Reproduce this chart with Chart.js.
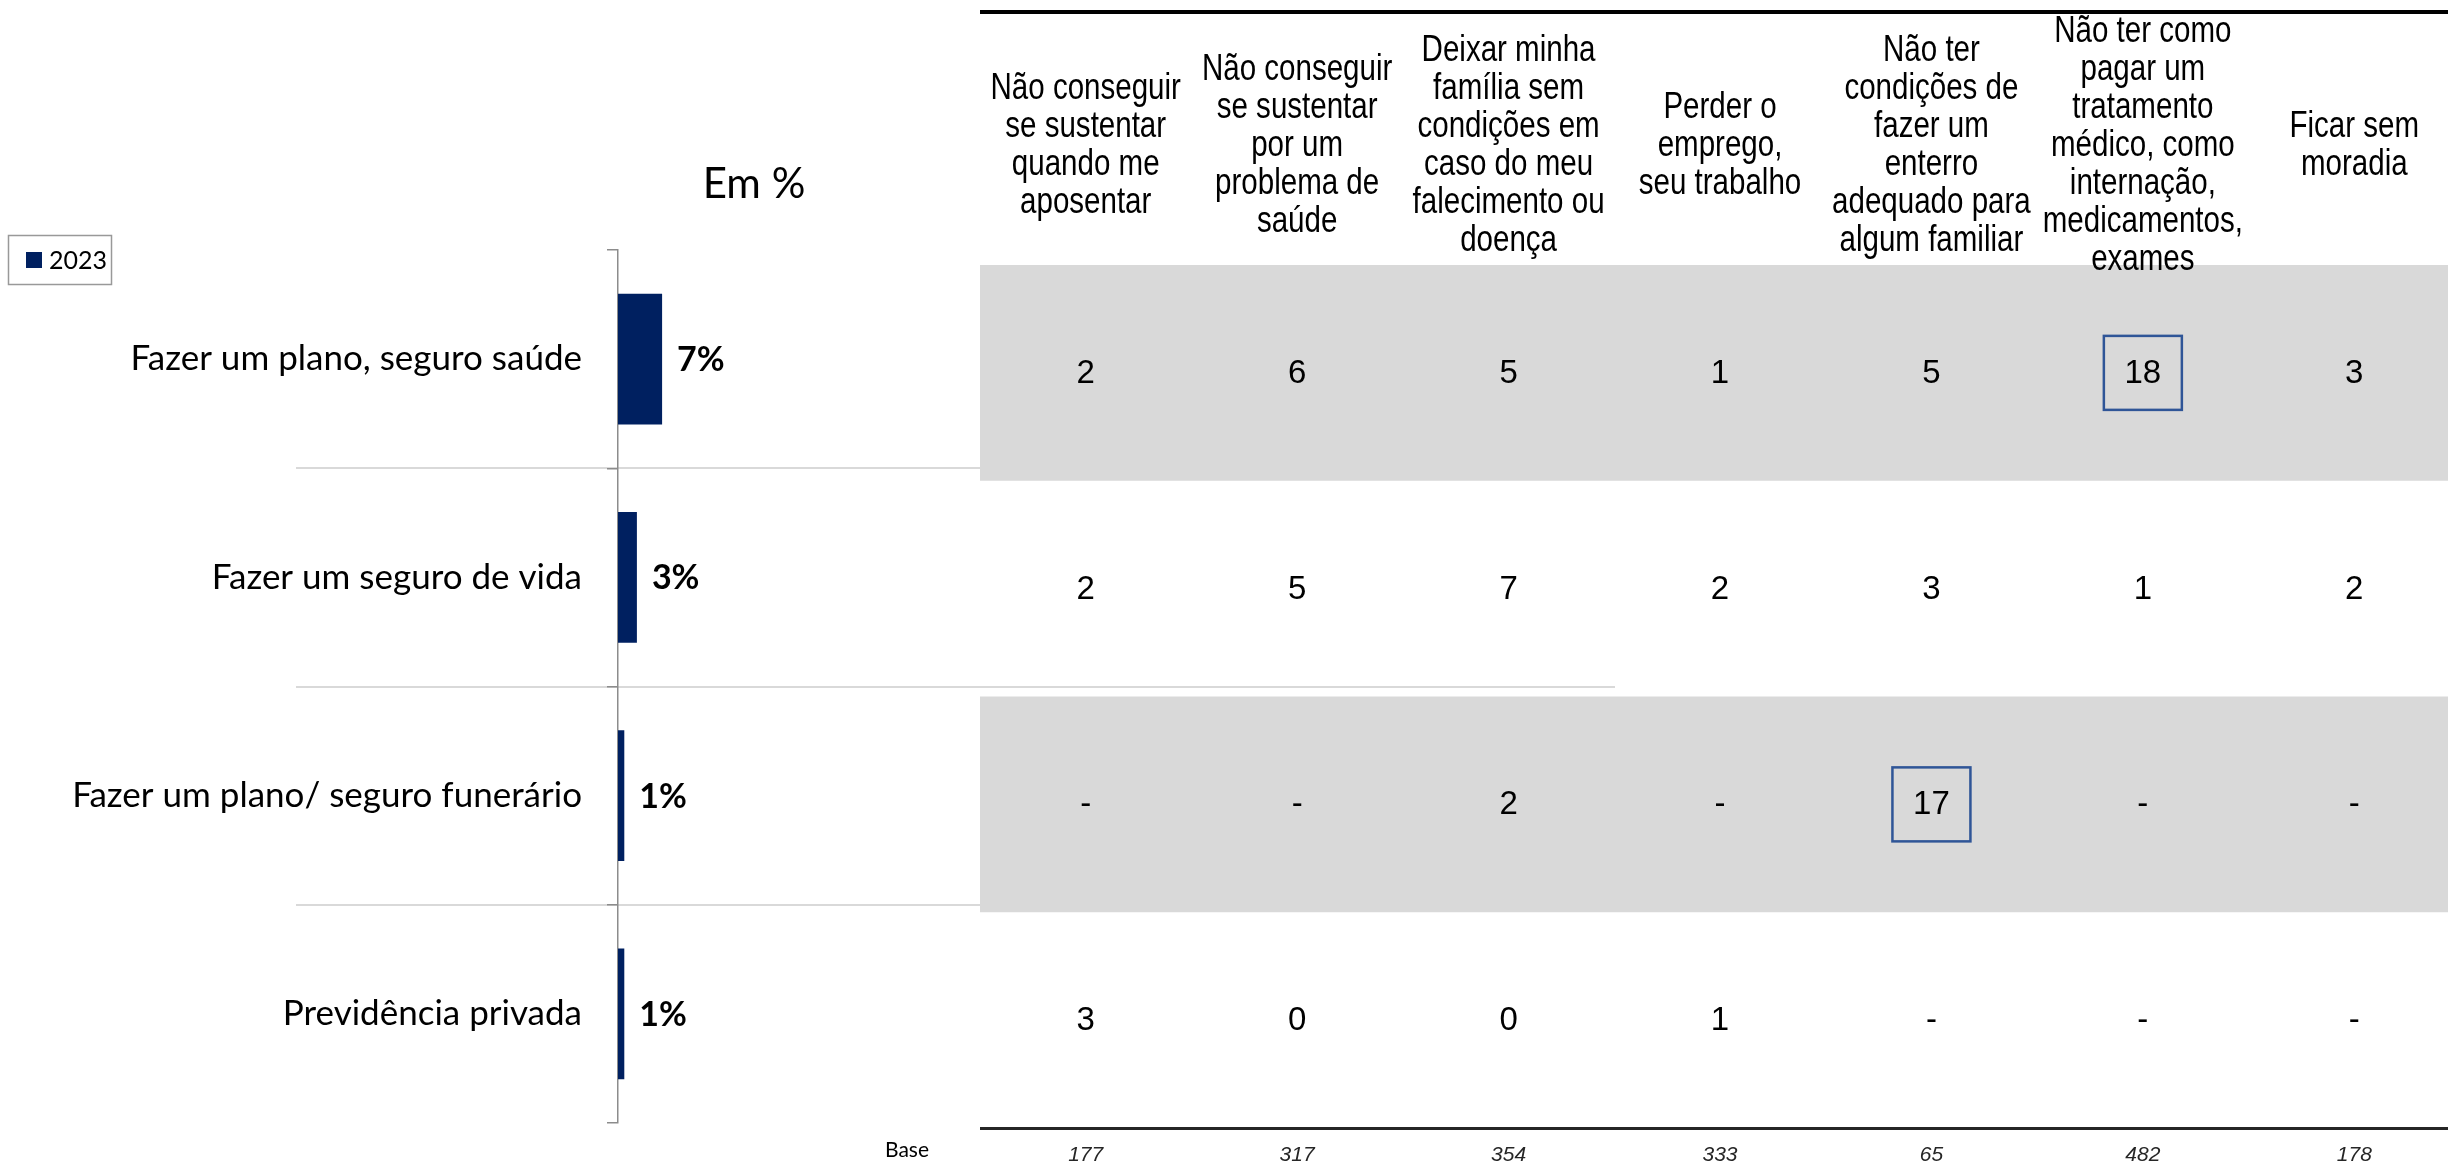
<!DOCTYPE html>
<html>
<head>
<meta charset="utf-8">
<script src="https://cdn.jsdelivr.net/npm/chart.js@4.4.1/dist/chart.umd.min.js"></script>
<style>
  html, body { margin:0; padding:0; background:#ffffff; overflow:hidden; width:2448px; height:1169px; position:relative; }
  canvas { position:absolute; top:0; }
</style>
</head>
<body>
<canvas id="tbl" width="1480" height="1169" style="left:980px"></canvas>
<canvas id="bars" width="2448" height="1169" style="left:0px"></canvas>
<script>
// ---------------- DATA ----------------
const categories = [
  'Fazer um plano, seguro saúde',
  'Fazer um seguro de vida',
  'Fazer um plano/ seguro funerário',
  'Previdência privada'
];
const seriesLabel = '2023';
const series2023 = [7, 3, 1, 1];

const concerns = [
  ['Não conseguir', 'se sustentar', 'quando me', 'aposentar'],
  ['Não conseguir', 'se sustentar', 'por um', 'problema de', 'saúde'],
  ['Deixar minha', 'família sem', 'condições em', 'caso do meu', 'falecimento ou', 'doença'],
  ['Perder o', 'emprego,', 'seu trabalho'],
  ['Não ter', 'condições de', 'fazer um', 'enterro', 'adequado para', 'algum familiar'],
  ['Não ter como', 'pagar um', 'tratamento', 'médico, como', 'internação,', 'medicamentos,', 'exames'],
  ['Ficar sem', 'moradia']
];
const bases = ['177', '317', '354', '333', '65', '482', '178'];

const rowPlanoSaude  = [2, 6, 5, 1, 5, 18, 3];
const rowSeguroVida  = [2, 5, 7, 2, 3, 1, 2];
const rowFunerario   = [null, null, 2, null, 17, null, null];
const rowPrevidencia = [3, 0, 0, 1, null, null, null];
const tableRows = [rowPlanoSaude, rowSeguroVida, rowFunerario, rowPrevidencia];

const shadedRows = [0, 2];
const highlightCells = [[0, 5], [2, 4]];

// ---------------- FONT HELPERS ----------------
function hasFont(name) {
  const c = document.createElement('canvas').getContext('2d');
  const s = 'abcdefghijklmnop WMi 0123';
  c.font = '40px monospace';
  const a = c.measureText(s).width;
  c.font = '40px "' + name + '", monospace';
  const b = c.measureText(s).width;
  return Math.abs(a - b) > 0.5;
}
const NARROW = hasFont('Liberation Sans Narrow');
function narrowText(ctx, text, x, y, size) {
  if (NARROW) {
    ctx.font = size + 'px "Liberation Sans Narrow"';
    ctx.fillText(text, x, y);
  } else {
    ctx.save();
    ctx.font = size + 'px "Liberation Sans", Arial, sans-serif';
    ctx.translate(x, y);
    ctx.scale(0.82, 1);
    ctx.fillText(text, 0, 0);
    ctx.restore();
  }
}

// ---------------- TABLE CHART ----------------
const columnKeys = concerns.map(l => l.join(' '));
const cells = [];
tableRows.forEach((row, r) => row.forEach((v, c) => cells.push({ x: columnKeys[c], y: categories[r], v: v })));

const tablePlugin = {
  id: 'tablePlugin',
  beforeDatasetsDraw(chart) {
    const ctx = chart.ctx, ys = chart.scales.y, ca = chart.chartArea;
    const half = (ys.getPixelForValue(1) - ys.getPixelForValue(0)) / 2;
    ctx.save();
    ctx.fillStyle = '#d9d9d9';
    shadedRows.forEach(r => {
      const yc = ys.getPixelForValue(r);
      ctx.fillRect(ca.left, yc - half, ca.right - ca.left, half * 2);
    });
    // top rule
    ctx.fillStyle = '#000000';
    ctx.fillRect(ca.left, 10, ca.right - ca.left, 4);
    ctx.restore();
  },
  afterDatasetsDraw(chart) {
    const ctx = chart.ctx, xs = chart.scales.x, ys = chart.scales.y;
    const meta = chart.getDatasetMeta(0);
    const ds = chart.data.datasets[0].data;
    ctx.save();
    ctx.fillStyle = '#000000';
    ctx.textAlign = 'center';
    ctx.textBaseline = 'middle';
    ctx.font = '33px "Liberation Sans", Arial, sans-serif';
    meta.data.forEach((pt, i) => {
      const v = ds[i].v;
      ctx.fillText(v === null ? '-' : String(v), pt.x, pt.y + 1);
    });
    // highlight boxes
    ctx.strokeStyle = '#2F5597';
    ctx.lineWidth = 2.5;
    highlightCells.forEach(([r, c]) => {
      const px = xs.getPixelForValue(c), py = ys.getPixelForValue(r);
      ctx.strokeRect(px - 39, py - 37, 78, 74);
    });
    // headers
    const lh = 38, cy = 146;
    concerns.forEach((lines, c) => {
      const px = xs.getPixelForValue(c);
      const y0 = cy - (lines.length - 1) / 2 * lh;
      lines.forEach((t, k) => narrowText(ctx, t, px, y0 + k * lh, 36));
    });
    ctx.restore();
  }
};

new Chart(document.getElementById('tbl'), {
  type: 'line',
  data: { datasets: [{ data: cells, showLine: false, pointRadius: 0, pointHoverRadius: 0 }] },
  options: {
    responsive: false, animation: false, events: [],
    layout: { padding: { top: 265, left: 0, right: 0, bottom: 0 } },
    plugins: { legend: { display: false }, tooltip: { enabled: false } },
    scales: {
      x: {
        type: 'category', labels: columnKeys, offset: true, position: 'bottom',
        grid: { display: false },
        border: { display: true, color: '#262626', width: 3 },
        ticks: {
          callback: (v, i) => bases[i], autoSkip: false, maxRotation: 0,
          font: { family: '"Liberation Sans", Arial, sans-serif', size: 21, style: 'italic' },
          color: '#262626', padding: 7
        },
        afterFit(s) { s.height = 41; }
      },
      y: { type: 'category', labels: categories, offset: true, display: false }
    }
  },
  plugins: [tablePlugin]
});

// ---------------- BAR CHART ----------------
const barPlugin = {
  id: 'barPlugin',
  beforeDraw(chart) {
    const ctx = chart.ctx, ys = chart.scales.y;
    ctx.save();
    ctx.strokeStyle = '#d9d9d9';
    ctx.lineWidth = 2;
    for (let i = 1; i < categories.length; i++) {
      const y = Math.round((ys.getPixelForValue(i - 1) + ys.getPixelForValue(i)) / 2);
      const xEnd = (i === 2) ? 1615 : 980;
      ctx.beginPath(); ctx.moveTo(296, y); ctx.lineTo(xEnd, y); ctx.stroke();
    }
    ctx.restore();
  },
  afterDatasetsDraw(chart) {
    const ctx = chart.ctx;
    const meta = chart.getDatasetMeta(0);
    const ds = chart.data.datasets[0];
    ctx.save();
    // value labels
    ctx.fillStyle = '#000000';
    ctx.font = 'bold 34px Lato, sans-serif';
    ctx.textAlign = 'left';
    ctx.textBaseline = 'middle';
    meta.data.forEach((bar, i) => ctx.fillText(ds.data[i] + '%', bar.x + 15, bar.y + 1));
    // legend
    ctx.strokeStyle = '#999999';
    ctx.lineWidth = 1.5;
    ctx.strokeRect(8.5, 235.5, 103, 49);
    ctx.fillStyle = ds.backgroundColor;
    ctx.fillRect(26, 252, 16, 16);
    ctx.fillStyle = '#000000';
    ctx.font = '25px Lato, sans-serif';
    ctx.fillText(ds.label, 49, 261);
    // unit title
    ctx.textAlign = 'center';
    ctx.font = '42px Lato, sans-serif';
    ctx.fillText('Em %', 754, 184);
    // base label
    ctx.textAlign = 'left';
    ctx.font = '21px Lato, sans-serif';
    ctx.fillText('Base', 885, 1150);
    ctx.restore();
  }
};

new Chart(document.getElementById('bars'), {
  type: 'bar',
  data: {
    labels: categories,
    datasets: [{ label: seriesLabel, data: series2023, backgroundColor: '#002060', barPercentage: 0.6, categoryPercentage: 1 }]
  },
  options: {
    indexAxis: 'y', responsive: false, animation: false, events: [],
    layout: { padding: { top: 250, bottom: 45, left: 0, right: 2448 - 933 } },
    plugins: { legend: { display: false }, tooltip: { enabled: false } },
    scales: {
      x: { type: 'linear', min: 0, max: 50, display: false },
      y: {
        type: 'category', position: 'left', offset: true,
        grid: { display: true, offset: true, drawOnChartArea: false, drawTicks: true, tickLength: 11, color: '#8c8c8c', lineWidth: 1.5 },
        border: { display: true, color: '#8c8c8c', width: 1.5 },
        ticks: { font: { family: 'Lato, sans-serif', size: 35 }, color: '#000000', padding: 25, autoSkip: false },
        afterFit(s) { s.width = 618; }
      }
    }
  },
  plugins: [barPlugin]
});
</script>
</body>
</html>
